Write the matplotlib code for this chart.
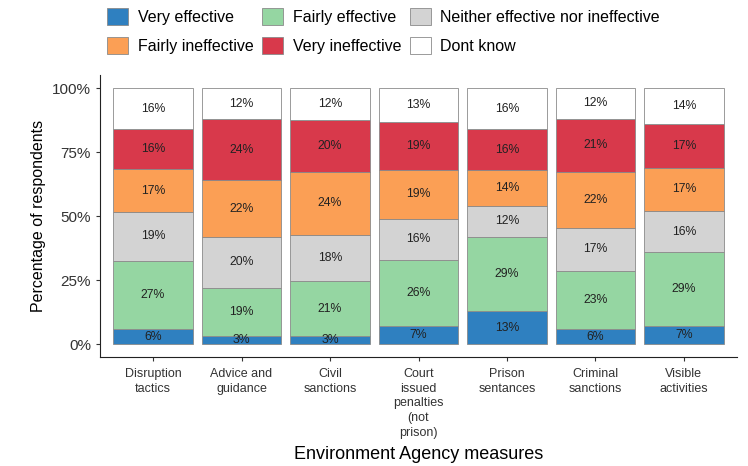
import matplotlib.pyplot as plt
import numpy as np

plt.rcParams['font.family'] = ['Liberation Sans', 'DejaVu Sans']

measures = ["Disruption\ntactics", "Advice and\nguidance", "Civil\nsanctions",
            "Court\nissued\npenalties\n(not\nprison)", "Prison\nsentances",
            "Criminal\nsanctions", "Visible\nactivities"]
responses = ["Very effective", "Fairly effective", "Neither effective nor ineffective",
             "Fairly ineffective", "Very ineffective", "Dont know"]

very_effective = [6, 3, 3, 7, 13, 6, 7]
fairly_effective = [27, 19, 21, 26, 29, 23, 29]
neither = [19, 20, 18, 16, 12, 17, 16]
fairly_ineffective = [17, 22, 24, 19, 14, 22, 17]
very_ineffective = [16, 24, 20, 19, 16, 21, 17]
dont_know = [16, 12, 12, 13, 16, 12, 14]

colours = ["#2f80c0", "#95d6a2", "#d3d3d3", "#fb9f55", "#d8394b", "#ffffff"]

series = np.array([very_effective, fairly_effective, neither,
                   fairly_ineffective, very_ineffective, dont_know], dtype=float)
# stacked to fill, like position = "fill"
shares = series / series.sum(axis=0)

fig = plt.figure(figsize=(7.48, 4.66), dpi=100)
ax = fig.add_axes([0.1337, 0.234, 0.8516, 0.604])

x = np.arange(len(measures))
bottom = np.zeros(len(measures))
handles = []
for vals, share, name, col in zip(series, shares, responses, colours):
    bars = ax.bar(x, share, 0.9, bottom=bottom, color=col, edgecolor="#8a8a8a",
                  linewidth=0.6, label=name)
    handles.append(bars)
    for xi, b, s, v in zip(x, bottom, share, vals):
        ax.text(xi, b + s / 2, f"{int(v)}%", ha="center", va="center",
                fontsize=8.8, color="#222222")
    bottom += share

ax.set_xlim(-0.6, 6.6)
ax.set_ylim(-0.05, 1.05)
ax.set_yticks([0, 0.25, 0.5, 0.75, 1.0])
ax.set_yticklabels(["0%", "25%", "50%", "75%", "100%"], fontsize=11, color="#333333")
ax.set_xticks(x)
ax.set_xticklabels(measures, fontsize=9, color="#333333", va="top", linespacing=1.3)
ax.set_xlabel("Environment Agency measures", fontsize=13, labelpad=5)
ax.set_ylabel("Percentage of respondents", fontsize=11.5, labelpad=4)
for side in ["top", "right"]:
    ax.spines[side].set_visible(False)
for side in ["left", "bottom"]:
    ax.spines[side].set_color("#222222")
ax.tick_params(length=3, color="#333333")
ax.tick_params(axis="x", pad=5)

# legend filled row by row
order = [0, 3, 1, 4, 2, 5]
fig.legend([handles[i] for i in order], [responses[i] for i in order],
           loc="upper center", bbox_to_anchor=(0.513, 1.0), ncol=3, frameon=False,
           fontsize=11.5, handlelength=1.3, handleheight=1.3, handletextpad=0.6,
           columnspacing=0.55, labelspacing=0.7, borderaxespad=0.1)

plt.savefig("out.png", dpi=100)
